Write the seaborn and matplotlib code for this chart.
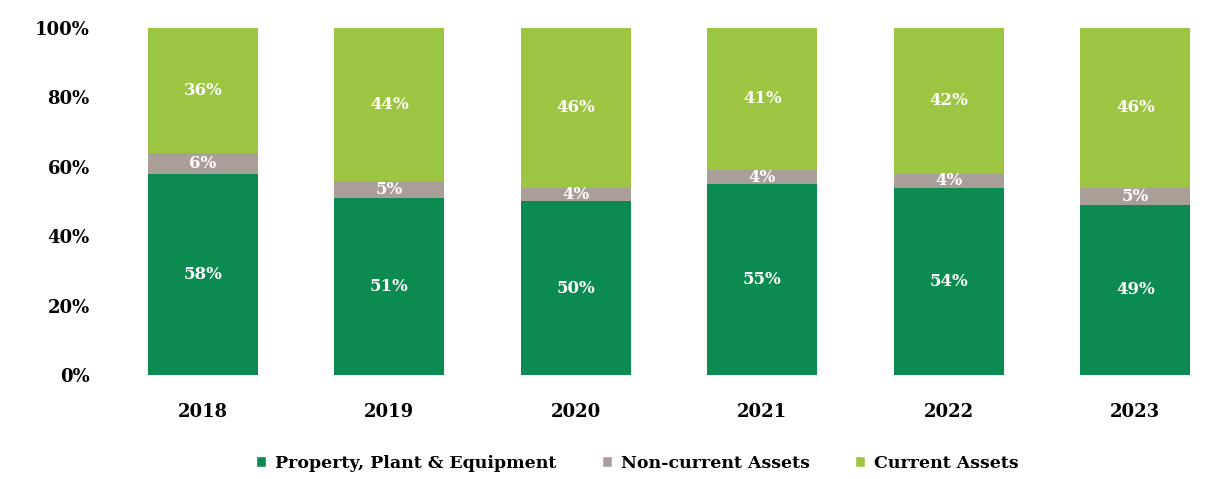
import matplotlib
matplotlib.use("Agg")
import matplotlib.pyplot as plt
import seaborn as sns
import pandas as pd
import numpy as np
from matplotlib.patches import Patch

years = ["2018", "2019", "2020", "2021", "2022", "2023"]
ppe = [58, 51, 50, 55, 54, 49]          # Property, Plant & Equipment (%)
non_current = [6, 5, 4, 4, 4, 5]        # Non-current Assets (%)
current = [36, 44, 46, 41, 42, 46]      # Current Assets (%)
series_names = ["Property, Plant & Equipment", "Non-current Assets", "Current Assets"]
colors = ["#0b8b4f", "#aa9e98", "#9cc642"]

df = pd.DataFrame({"year": years, "ppe": ppe, "nc": non_current, "cur": current})
df["lvl1"] = df["ppe"] / 100
df["lvl2"] = (df["ppe"] + df["nc"]) / 100
df["lvl3"] = (df["ppe"] + df["nc"] + df["cur"]) / 100

sns.set_theme(style="white")
plt.rcParams["font.family"] = ["DejaVu Serif"]
plt.rcParams["text.color"] = "black"
plt.rcParams["xtick.color"] = "black"
plt.rcParams["ytick.color"] = "black"

fig = plt.figure(figsize=(12.16, 4.79), dpi=100)
ax = fig.add_axes([0.107, 0.217, 0.888, 0.725])

# stacked bars: draw cumulative totals from the top layer down
for col, c in zip(["lvl3", "lvl2", "lvl1"], colors[::-1]):
    sns.barplot(data=df, x="year", y=col, color=c, width=0.59,
                saturation=1, ax=ax, edgecolor="none")

# segment labels
for i in range(len(years)):
    bottoms = [0, ppe[i], ppe[i] + non_current[i]]
    for b, v in zip(bottoms, [ppe[i], non_current[i], current[i]]):
        ax.text(i, (b + v / 2) / 100, f"{v}%", ha="center", va="center",
                color="white", fontsize=12, fontweight="bold")

ax.set_xlim(-0.39, 5.40)
ax.set_ylim(0, 1)
ax.set_yticks(np.arange(0, 1.01, 0.2))
ax.set_yticklabels([f"{int(round(t * 100))}%" for t in np.arange(0, 1.01, 0.2)])
ax.set_xlabel("")
ax.set_ylabel("")
ax.tick_params(axis="y", length=0, pad=29, labelsize=13, labelcolor="black")
ax.tick_params(axis="x", length=0, pad=20, labelsize=13, labelcolor="black")
for lbl in ax.get_xticklabels() + ax.get_yticklabels():
    lbl.set_fontweight("bold")
sns.despine(ax=ax, left=True, bottom=True)

handles = [Patch(facecolor=c, label=n) for c, n in zip(colors, series_names)]
fig.legend(handles=handles, loc="center", bbox_to_anchor=(0.524, 0.033), ncol=3,
           frameon=False, handlelength=0.6, handleheight=0.6, columnspacing=2.6,
           handletextpad=0.5, labelcolor="black",
           prop={"weight": "bold", "size": 12.5})

fig.savefig("out.png", dpi=100)
